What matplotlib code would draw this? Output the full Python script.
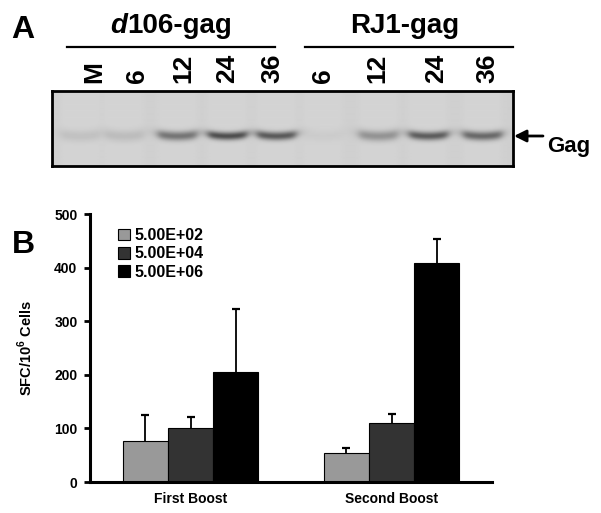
import numpy as np
import matplotlib
matplotlib.use('Agg')
import matplotlib.pyplot as plt

plt.rcParams['font.family'] = ['Liberation Sans', 'DejaVu Sans']
plt.rcParams['font.weight'] = 'bold'
plt.rcParams['axes.labelweight'] = 'bold'
plt.rcParams['mathtext.fontset'] = 'custom'
plt.rcParams['mathtext.bf'] = 'Liberation Sans:bold'
plt.rcParams['mathtext.rm'] = 'Liberation Sans:bold'

# panel A: gel lanes and band strength (0 = none, 1 = darkest)
lanes_d106 = ['M', '6', '12', '24', '36']
lanes_rj1 = ['6', '12', '24', '36']
bands_d106 = [0.12, 0.15, 0.62, 0.88, 0.8]
bands_rj1 = [0.05, 0.42, 0.78, 0.7]

# panel B: SFC/10^6 cells per dose, [First Boost, Second Boost]
groups = ['First Boost', 'Second Boost']
doses = ['5.00E+02', '5.00E+04', '5.00E+06']
sfc_low = [76, 54]
sfc_mid = [100, 110]
sfc_high = [205, 408]
err_low = [49, 10]
err_mid = [21, 16]
err_high = [118, 45]

W, H = 601, 513
fig = plt.figure(figsize=(W / 100, H / 100), dpi=100)

# ---- gel ----
gx0, gx1, gy0, gy1 = 52, 513, 91, 166
gel = fig.add_axes([gx0 / W, 1 - gy1 / H, (gx1 - gx0) / W, (gy1 - gy0) / H])
gw, gh = gx1 - gx0, gy1 - gy0
xx = np.arange(gw)[None, :]
yy = np.arange(gh)[:, None]
band_x = [80, 124, 177, 227, 276, 323, 378, 428, 482]
img = np.full((gh, gw), 0.81)
for cx, s in zip(band_x, bands_d106 + bands_rj1):
    c = cx - gx0
    px = 1 / (1 + ((xx - c) / 20.0) ** 8)
    sig = 1.8 + s * 0.8 + (1 - s) * 2.5
    yc = 45 - 0.005 * (xx - c) ** 2
    py = np.exp(-0.5 * ((yy - yc) / sig) ** 2)
    img -= s * 0.6 * px * py
    img += 0.02 * px
gel.imshow(img, cmap='gray', vmin=0, vmax=1, aspect='auto', interpolation='bilinear')
gel.set_xticks([])
gel.set_yticks([])
for sp in gel.spines.values():
    sp.set_linewidth(2)

# ---- bar chart ----
ax = fig.add_axes([90 / W, (H - 482) / H, 402 / W, 268 / H])
x = np.arange(len(groups))
w = 0.224
colors = ['#999999', '#333333', '#000000']
for i, (vals, errs) in enumerate([(sfc_low, err_low), (sfc_mid, err_mid), (sfc_high, err_high)]):
    bars = ax.bar(x + (i - 1) * w, vals, w, color=colors[i], edgecolor='black', linewidth=0.8,
                  label=doses[i], yerr=[np.zeros(len(errs)), errs],
                  error_kw=dict(ecolor='black', elinewidth=1.3, capsize=3, capthick=1.6),
                  zorder=2)
    # only keep the upper caps
    bars.errorbar.lines[1][0].set_visible(False)
ax.set_xlim(-0.5, 1.5)
ax.set_ylim(0, 500)
ax.set_yticks(range(0, 501, 100))
ax.set_xticks(x)
ax.set_xticklabels(groups, fontsize=10)
ax.tick_params(axis='y', labelsize=10, width=2, length=4, pad=5)
ax.tick_params(axis='x', length=0, pad=7)
for sp in ['top', 'right']:
    ax.spines[sp].set_visible(False)
for sp in ['left', 'bottom']:
    ax.spines[sp].set_linewidth(2.2)
ax.set_ylabel(r'SFC/10$^{6}$ Cells', fontsize=10.5)
ax.yaxis.set_label_coords(-0.137, 0.5)
ax.legend(loc='upper left', bbox_to_anchor=(0.07, 0.947), frameon=False, borderaxespad=0,
          borderpad=0, handlelength=0.75, handleheight=0.75, handletextpad=0.3,
          labelspacing=0.2, fontsize=11.5)

# ---- labels in pixel coordinates ----
ov = fig.add_axes([0, 0, 1, 1])
ov.set_xlim(0, W)
ov.set_ylim(H, 0)
ov.axis('off')
ov.patch.set_alpha(0)

ov.text(11, 38, 'A', fontsize=23, ha='left', va='baseline')
ov.text(12, 253, 'B', fontsize=23, ha='left', va='baseline')

ov.text(127, 33, 'd', fontsize=20, style='italic', ha='right', va='baseline')
ov.text(127, 33, '106-gag', fontsize=20, ha='left', va='baseline')
ov.text(405, 33, 'RJ1-gag', fontsize=20, ha='center', va='baseline')
ov.plot([67, 275], [47, 47], color='black', lw=1.6)
ov.plot([305, 513], [47, 47], color='black', lw=1.6)

label_x = [94, 137, 183, 227, 272, 323, 377, 436, 487]
for lx, lab in zip(label_x, lanes_d106 + lanes_rj1):
    ov.text(lx, 83, lab, fontsize=19, rotation=90, ha='center', va='bottom')

ov.annotate('', xy=(514, 136), xytext=(543, 136),
            arrowprops=dict(arrowstyle='-|>', color='black', lw=2, mutation_scale=18,
                            shrinkA=0, shrinkB=0))
ov.text(547, 152, 'Gag', fontsize=16, ha='left', va='baseline')

fig.savefig('out.png', dpi=100)
